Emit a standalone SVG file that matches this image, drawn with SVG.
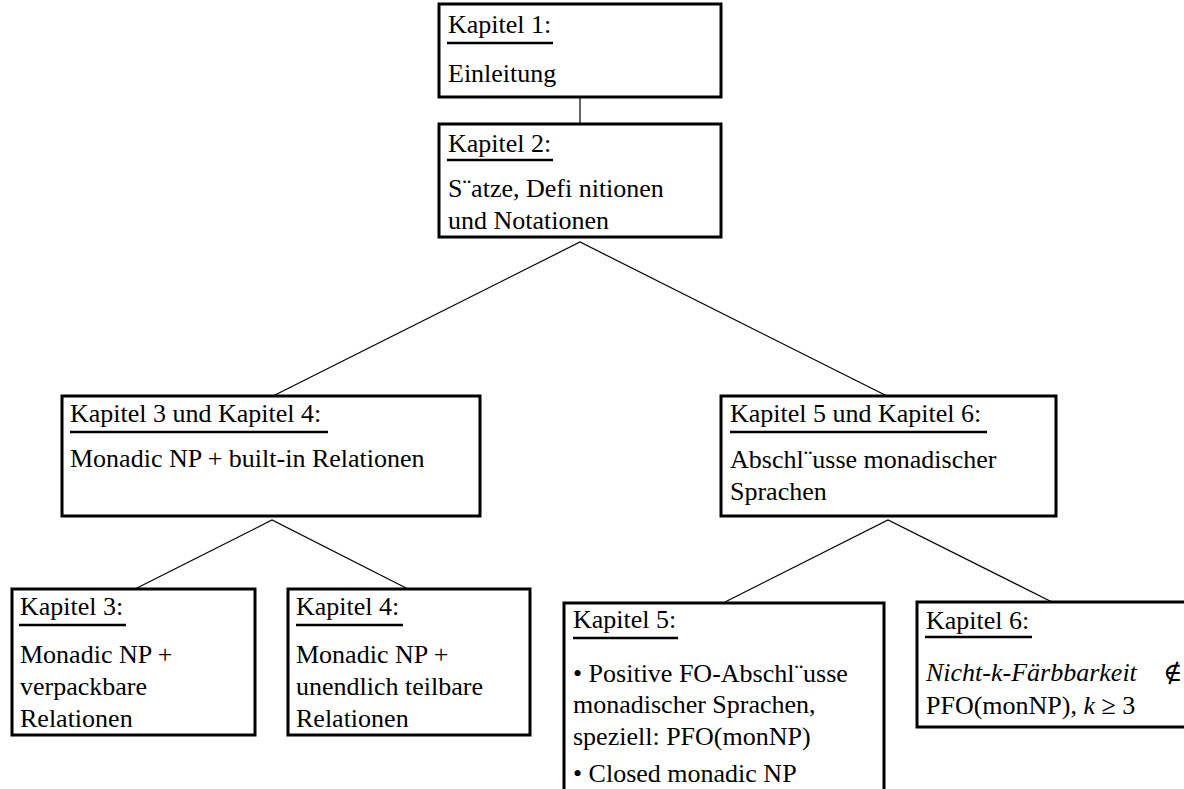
<svg xmlns="http://www.w3.org/2000/svg" width="1184" height="789" viewBox="0 0 1184 789">
  <style>
    .box { fill: #fff; stroke: #000; stroke-width: 3; }
    .edge { stroke: #000; stroke-width: 1.2; fill: none; }
    .ul { stroke: #000; stroke-width: 2.5; }
    text { font-size: 26px; fill: #000; }
    .it { font-style: italic; }
  </style>
  <rect width="1184" height="789" fill="#fff"/>

  <!-- tree connectors -->
  <g id="connectors">
    <line class="edge" x1="580" y1="97" x2="580" y2="124"/>
    <polyline class="edge" points="273,396 580,242 887,396"/>
    <polyline class="edge" points="135,589 272,520 408,589"/>
    <polyline class="edge" points="725,602 888,520 1052,602"/>
  </g>

  <g font-family="'Liberation Serif', 'DejaVu Serif', serif">
  <g id="kap1">
    <rect class="box" x="439" y="4" width="282" height="93"/>
    <text x="448" y="33">Kapitel 1:</text>
    <line class="ul" x1="447" y1="43" x2="553" y2="43"/>
    <text x="448" y="82">Einleitung</text>
  </g>

  <g id="kap2">
    <rect class="box" x="439" y="124" width="282" height="113"/>
    <text x="448" y="152">Kapitel 2:</text>
    <line class="ul" x1="447" y1="160" x2="553" y2="160"/>
    <text x="448" y="197">S¨atze, Defi nitionen</text>
    <text x="448" y="229">und Notationen</text>
  </g>

  <g id="kap34">
    <rect class="box" x="62" y="396" width="418" height="120"/>
    <text x="70" y="422">Kapitel 3 und Kapitel 4:</text>
    <line class="ul" x1="70" y1="432" x2="328" y2="432"/>
    <text x="70" y="467">Monadic NP + built-in Relationen</text>
  </g>

  <g id="kap56">
    <rect class="box" x="721" y="396" width="335" height="120"/>
    <text x="730" y="422">Kapitel 5 und Kapitel 6:</text>
    <line class="ul" x1="730" y1="432" x2="987" y2="432"/>
    <text x="730" y="468">Abschl¨usse monadischer</text>
    <text x="730" y="500">Sprachen</text>
  </g>

  <g id="kap3">
    <rect class="box" x="12" y="589" width="243" height="146"/>
    <text x="20" y="615">Kapitel 3:</text>
    <line class="ul" x1="19" y1="625" x2="126" y2="625"/>
    <text x="20" y="663">Monadic NP +</text>
    <text x="20" y="695">verpackbare</text>
    <text x="20" y="727">Relationen</text>
  </g>

  <g id="kap4">
    <rect class="box" x="288" y="589" width="242" height="146"/>
    <text x="296" y="615">Kapitel 4:</text>
    <line class="ul" x1="296" y1="625" x2="403" y2="625"/>
    <text x="296" y="663">Monadic NP +</text>
    <text x="296" y="695">unendlich teilbare</text>
    <text x="296" y="727">Relationen</text>
  </g>

  <g id="kap5">
    <rect class="box" x="564" y="603" width="320" height="220"/>
    <text x="573" y="628">Kapitel 5:</text>
    <line class="ul" x1="573" y1="638" x2="678" y2="638"/>
    <text x="573" y="682">• Positive FO-Abschl¨usse</text>
    <text x="573" y="713">monadischer Sprachen,</text>
    <text x="573" y="745">speziell: PFO(monNP)</text>
    <text x="573" y="782">• Closed monadic NP</text>
  </g>

  <g id="kap6">
    <rect class="box" x="917" y="602" width="290" height="125"/>
    <text x="926" y="629">Kapitel 6:</text>
    <line class="ul" x1="925" y1="637" x2="1032" y2="637"/>
    <text x="926" y="681"><tspan class="it">Nicht-k-Färbbarkeit</tspan><tspan x="1163">∉</tspan></text>
    <text x="926" y="714">PFO(monNP), <tspan class="it">k</tspan> ≥ 3</text>
  </g>
  </g>
</svg>
